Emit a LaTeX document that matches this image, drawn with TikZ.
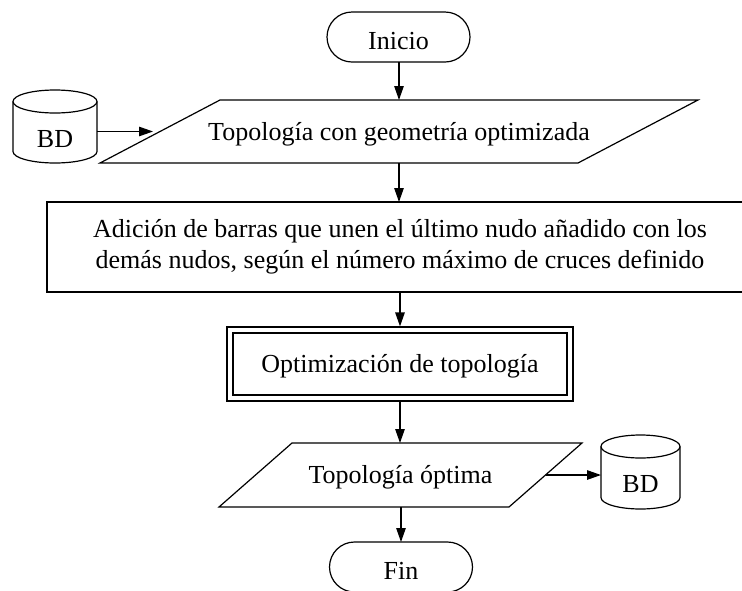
\documentclass[tikz,border=0pt]{standalone}
\usepackage{fontspec}
\setmainfont{Liberation Serif}
\usetikzlibrary{arrows.meta}
\begin{document}
\begin{tikzpicture}[x=1pt,y=-1pt,
  every node/.style={font=\fontsize{26}{30.5}\selectfont, inner sep=0pt, outer sep=0pt},
  ln/.style={line width=1.2pt},
  arr/.style={ln, -{Triangle[length=14pt,width=9.5pt]}},
  term/.style={draw, ln, rounded corners=25pt, minimum width=143pt, minimum height=50pt, text height=25pt, text depth=0pt},
  pnode/.style={text height=17.5pt, text depth=0pt},
  cylbody/.style={text height=18pt, text depth=0pt},
  procbox/.style={draw, ln, align=center},
  dblbox/.style={draw, ln, double, double distance=4.8pt, outer sep=3.6pt, text height=17.5pt, text depth=0pt}
]
\fill[white] (0,0) rectangle (742,590);
\useasboundingbox (0,0) rectangle (742,590);

% Inicio
\node[term] (inicio) at (398.5,37) {Inicio};

% Parallelogram 1
\node[pnode, minimum width=598pt, minimum height=63pt] (p1) at (399,131.5) {Topología con geometría optimizada};
\draw[ln] ([xshift=120pt]p1.north west) -- (p1.north east) -- ([xshift=-120pt]p1.south east) -- (p1.south west) -- cycle;

% BD 1
\node[cylbody, minimum width=84pt, minimum height=50pt] (bd1) at (55,138) {BD};
\draw[ln] ([yshift=11.5pt]bd1.north west) -- ([yshift=11.5pt]bd1.south west)
  arc[start angle=180, end angle=360, x radius=42pt, y radius=11.5pt] -- ([yshift=11.5pt]bd1.north east);
\draw[ln] ([yshift=11.5pt]bd1.north) ellipse[x radius=42pt, y radius=11.5pt];

% Process rectangle
\node[procbox, minimum width=706pt, minimum height=90pt] (r) at (400,247)
  {Adición de barras que unen el último nudo añadido con los\\demás nudos, según el número máximo de cruces definido};

% Double box
\node[dblbox, minimum width=340pt, minimum height=68pt] (opt) at (400,364) {Optimización de topología};

% Parallelogram 2
\node[pnode, minimum width=363pt, minimum height=64pt] (p2) at (400.5,475) {Topología óptima};
\draw[ln] ([xshift=73pt]p2.north west) -- (p2.north east) -- ([xshift=-73pt]p2.south east) -- (p2.south west) -- cycle;

% BD 2
\node[cylbody, minimum width=79pt, minimum height=51pt] (bd2) at (640.5,483.5) {BD};
\draw[ln] ([yshift=11.5pt]bd2.north west) -- ([yshift=11.5pt]bd2.south west)
  arc[start angle=180, end angle=360, x radius=39.5pt, y radius=11.5pt] -- ([yshift=11.5pt]bd2.north east);
\draw[ln] ([yshift=11.5pt]bd2.north) ellipse[x radius=39.5pt, y radius=11.5pt];

% Fin
\node[term] (fin) at (401,567) {Fin};

% Connectors
\draw[arr] (p1.north |- inicio.south) -- (p1.north);
\draw[arr] (bd1.east |- p1.west) -- ([xshift=53pt]p1.west);
\draw[arr] (p1.south) -- (p1.south |- r.north);
\draw[arr] (r.south -| opt.north) -- (opt.north);
\draw[arr] (opt.south) -- (opt.south |- p2.north);
\draw[arr] ([xshift=-36.5pt]p2.east) -- (bd2.west |- p2.east);
\draw[arr] (p2.south -| fin.north) -- (fin.north);
\end{tikzpicture}
\end{document}
